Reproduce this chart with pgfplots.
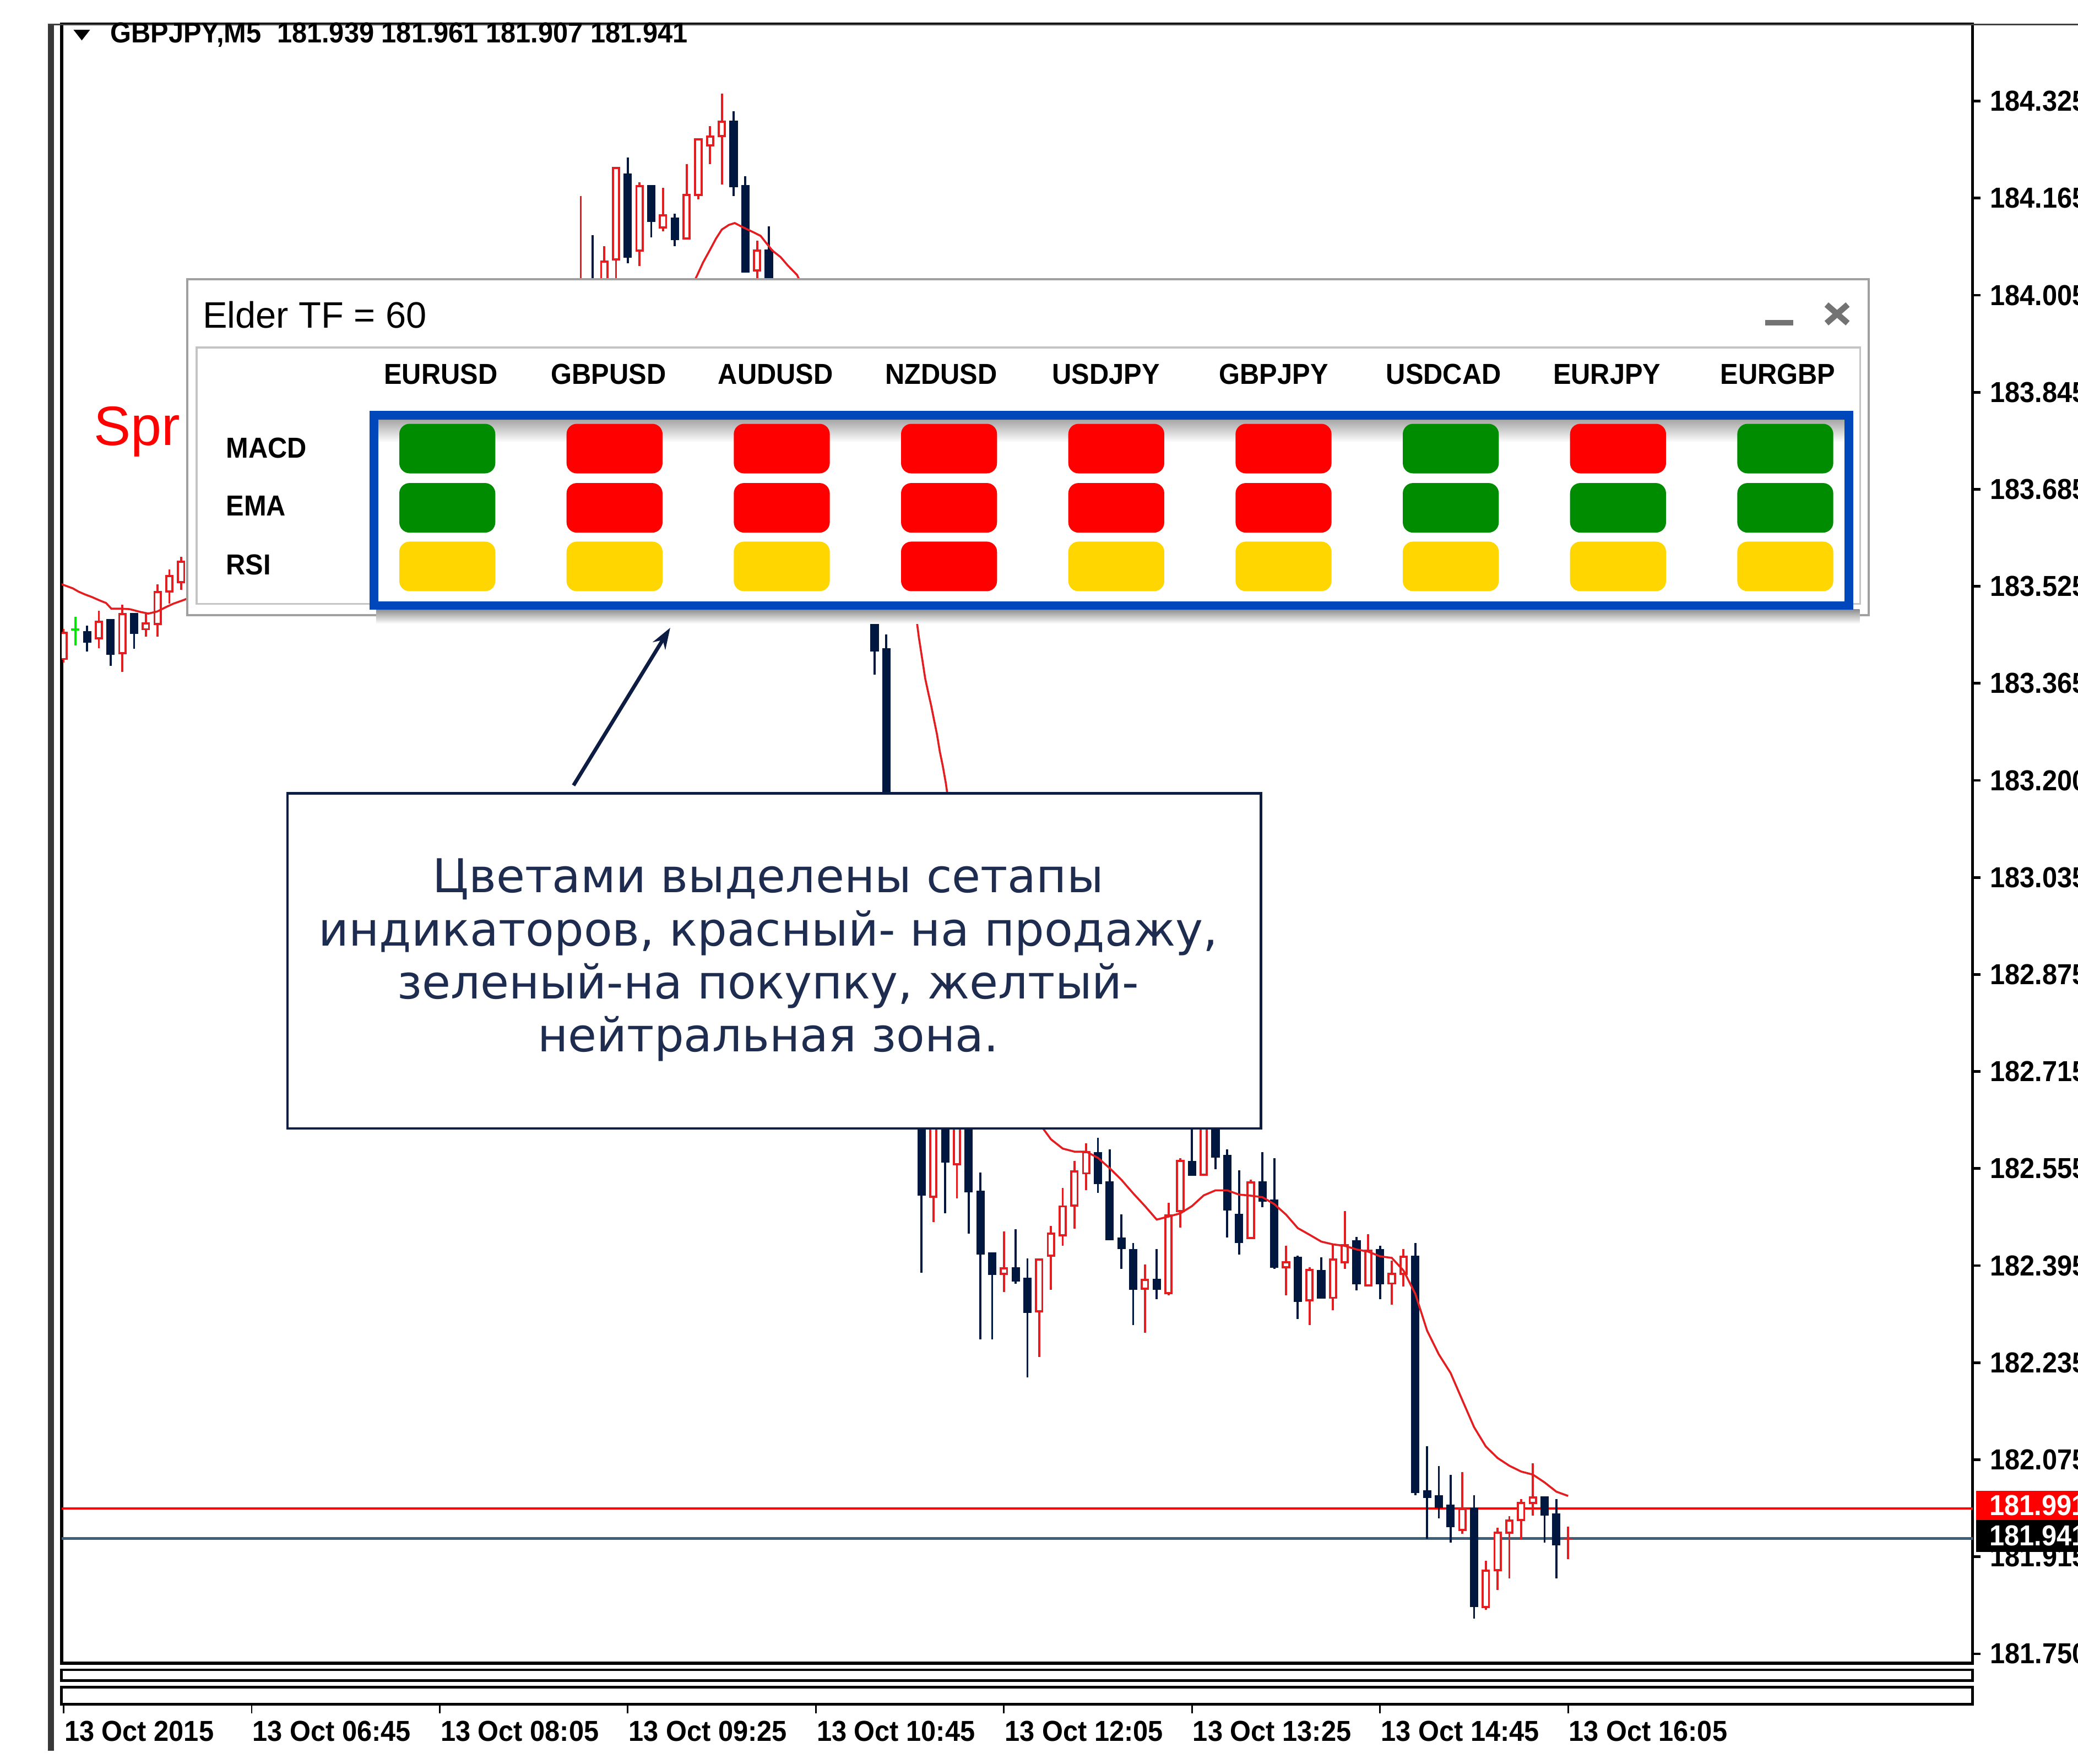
\documentclass[border=0pt]{standalone}
\usepackage{fontspec}
\setmainfont{Liberation Sans}
\newfontfamily\uifont[FakeStretch=0.93]{Liberation Sans}
\newfontfamily\boxfont{DejaVu Sans}
\usepackage{pgfplots}
\usepackage{pgfplotstable}
\pgfplotsset{compat=1.18}
\usetikzlibrary{arrows.meta}

\definecolor{bearc}{RGB}{0,24,64}
\definecolor{bullc}{RGB}{228,30,32}
\definecolor{macol}{RGB}{228,30,32}
\definecolor{bidc}{RGB}{62,95,122}
\definecolor{askc}{RGB}{255,0,0}
\definecolor{dojic}{RGB}{0,230,0}
\definecolor{pgreen}{RGB}{0,140,0}
\definecolor{pred}{RGB}{255,0,0}
\definecolor{pyellow}{RGB}{255,214,0}
\definecolor{frameblue}{RGB}{0,71,187}
\definecolor{boxnavy}{RGB}{12,28,66}
\definecolor{boxtext}{RGB}{30,44,80}
\definecolor{panelgray}{RGB}{160,160,160}
\definecolor{innergray}{RGB}{196,196,196}

\newcommand{\ui}{\uifont\bfseries\fontsize{6.2}{7.4}\selectfont}

% rounded rectangle mark (corners built from curves)
\pgfdeclareplotmark{rrect}{%
  \pgfpathmoveto{\pgfpoint{-0.285cm}{0.18cm}}%
  \pgfpathlineto{\pgfpoint{0.285cm}{0.18cm}}%
  \pgfpathcurveto{\pgfpoint{0.3237cm}{0.18cm}}{\pgfpoint{0.355cm}{0.1487cm}}{\pgfpoint{0.355cm}{0.11cm}}%
  \pgfpathlineto{\pgfpoint{0.355cm}{-0.11cm}}%
  \pgfpathcurveto{\pgfpoint{0.355cm}{-0.1487cm}}{\pgfpoint{0.3237cm}{-0.18cm}}{\pgfpoint{0.285cm}{-0.18cm}}%
  \pgfpathlineto{\pgfpoint{-0.285cm}{-0.18cm}}%
  \pgfpathcurveto{\pgfpoint{-0.3237cm}{-0.18cm}}{\pgfpoint{-0.355cm}{-0.1487cm}}{\pgfpoint{-0.355cm}{-0.11cm}}%
  \pgfpathlineto{\pgfpoint{-0.355cm}{0.11cm}}%
  \pgfpathcurveto{\pgfpoint{-0.355cm}{0.1487cm}}{\pgfpoint{-0.3237cm}{0.18cm}}{\pgfpoint{-0.285cm}{0.18cm}}%
  \pgfpathclose
  \pgfusepathqfillstroke}

% bearish candles (filled navy): bar index, open, high, low, close
\pgfplotstableread{
x O H L C
2 183.4459 183.4553 183.4123 183.4268
4 183.4663 183.4663 183.3883 183.4070
6 183.4758 183.4758 183.4169 183.4413
45 183.9652 184.1030 183.8114 183.8553
48 184.2048 184.2312 184.0558 184.0650
50 184.1857 184.1857 184.0993 184.1244
52 184.1318 184.1380 184.0848 184.0949
57 184.2927 184.3079 184.1674 184.1822
58 184.1857 184.2004 184.0406 184.0406
60 184.0793 184.1175 183.9652 183.9872
69 183.5257 183.5477 183.3738 183.4118
70 183.4173 183.4406 182.9103 182.9542
73 182.6930 182.6930 182.3817 182.5098
75 182.7084 182.7213 182.4810 182.5643
77 182.6764 182.6892 182.4470 182.5149
78 182.5181 182.5482 182.2714 182.4118
79 182.4156 182.4156 182.2714 182.3784
81 182.3913 182.4541 182.3637 182.3676
82 182.3733 182.4060 182.2086 182.3157
88 182.5816 182.6059 182.5143 182.5290
89 182.5335 182.5867 182.4361 182.4361
90 182.4406 182.4790 182.3881 182.4214
91 182.4214 182.4310 182.2951 182.3541
93 182.3720 182.4214 182.3381 182.3541
96 182.5675 182.6636 182.5431 182.5431
98 182.6636 182.6764 182.5534 182.5726
99 182.5771 182.5867 182.4406 182.4855
100 182.4797 182.5515 182.4118 182.4316
102 182.5335 182.5816 182.4906 182.5002
103 182.5034 182.5720 182.3881 182.3900
105 182.4086 182.4105 182.3048 182.3336
107 182.3861 182.4073 182.3387 182.3387
110 182.4361 182.4412 182.3528 182.3624
112 182.4214 182.4265 182.3381 182.3624
115 182.4105 182.4310 182.0132 182.0164
116 182.0215 182.0946 181.9408 182.0081
117 182.0132 182.0613 181.9748 181.9921
118 181.9972 182.0472 181.9344 181.9600
120 181.9921 182.0132 181.8082 181.8274
126 182.0113 182.0113 181.9344 181.9793
127 181.9824 182.0068 181.8755 181.9299
}\bear

% bullish candles (hollow red)
\pgfplotstableread{
x O H L C
0 183.3982 183.4496 183.3938 183.4452
3 183.4325 183.4795 183.4180 183.4635
5 183.4074 183.4894 183.3784 183.4758
7 183.4474 183.4758 183.4367 183.4604
8 183.4560 183.5235 183.4367 183.5129
9 183.5103 183.5487 183.4916 183.5389
10 183.5257 183.5696 183.5147 183.5630
44 183.8773 184.1674 183.8333 183.9872
46 183.9433 184.0848 183.8993 184.0604
47 184.0604 184.2158 183.9872 184.2158
49 184.0751 184.1907 184.0512 184.1857
51 184.1136 184.1815 184.1090 184.1371
53 184.0953 184.2202 184.0953 184.1714
54 184.1674 184.2635 184.1624 184.2635
55 184.2496 184.2833 184.2202 184.2681
56 184.2650 184.3373 184.1868 184.2927
59 184.0422 184.0938 184.0202 184.0786
74 182.5066 182.7213 182.4662 182.6956
76 182.5598 182.6956 182.5053 182.6828
80 182.3784 182.4502 182.3496 182.3913
83 182.3163 182.4054 182.2420 182.4054
84 182.4086 182.4598 182.3541 182.4489
85 182.4425 182.5226 182.4265 182.4938
86 182.4919 182.5675 182.4553 182.5515
87 182.5450 182.5963 182.5194 182.5835
92 182.3541 182.3957 182.2823 182.3720
94 182.3464 182.4983 182.3445 182.4790
95 182.4823 182.5720 182.4573 182.5688
97 182.5431 182.6828 182.5431 182.6636
101 182.4374 182.5367 182.4374 182.5335
104 182.3893 182.4265 182.3445 182.4009
106 182.3349 182.3913 182.2951 182.3881
108 182.3387 182.4297 182.3195 182.4060
109 182.3977 182.4842 182.3881 182.4297
111 182.3592 182.4457 182.3592 182.4201
113 182.3624 182.4022 182.3291 182.3817
114 182.3784 182.4214 182.3592 182.4105
119 181.9536 182.0517 181.9491 181.9921
121 181.8255 181.9043 181.8229 181.8895
122 181.8870 181.9587 181.8562 181.9523
123 181.9491 181.9780 181.8755 181.9728
124 181.9703 182.0068 181.9395 182.0023
125 181.9985 182.0664 181.9793 182.0113
128 181.9390 181.9610 181.9070 181.9410
}\bull

% doji
\pgfplotstableread{
x O H L C
1 183.4487 183.4696 183.4224 183.4487
}\doji

% indicator panel cells (pixel grid of the panel)
\pgfplotstableread{
x y c
337.5 338.5 G
463.7 338.5 R
589.9 338.5 R
716.1 338.5 R
842.3 338.5 R
968.5 338.5 R
1094.7 338.5 G
1220.9 338.5 R
1347.1 338.5 G
337.5 383.2 G
463.7 383.2 R
589.9 383.2 R
716.1 383.2 R
842.3 383.2 R
968.5 383.2 R
1094.7 383.2 G
1220.9 383.2 G
1347.1 383.2 G
337.5 427.4 Y
463.7 427.4 Y
589.9 427.4 Y
716.1 427.4 R
842.3 427.4 Y
968.5 427.4 Y
1094.7 427.4 Y
1220.9 427.4 Y
1347.1 427.4 Y
}\cells

\begin{document}
\begin{tikzpicture}
\fill[white] (0,0) rectangle (15.68cm,-13.31cm);
\path[use as bounding box] (0,0) rectangle (15.68cm,-13.31cm);

% ---------------- main price window ----------------
\begin{axis}[
  at={(0.465cm,-12.55cm)}, anchor=south west,
  scale only axis, width=14.42cm, height=12.37cm,
  xmin=-0.169, xmax=162.42,
  ymin=181.7345, ymax=184.4531,
  axis line style={line width=0.022cm, black},
  xtick=\empty,
  ytick={184.325,184.1641,184.0031,183.8422,183.6813,183.5203,183.3594,183.1984,183.0375,182.8766,182.7156,182.5547,182.3938,182.2328,182.0719,181.9109,181.75},
  yticklabels={184.325,184.165,184.005,183.845,183.685,183.525,183.365,183.200,183.035,182.875,182.715,182.555,182.395,182.235,182.075,181.915,181.750},
  ytick pos=right, yticklabel pos=right,
  tick align=outside, major tick length=0.06cm,
  every tick/.style={black, line width=0.02cm},
  yticklabel style={anchor=west, inner sep=0pt, font=\ui},
  yticklabel shift=0.065cm,
]
% ask / bid lines
\addplot[askc, line width=0.02cm, mark=none] coordinates {(-1,181.991) (170,181.991)};
\addplot[bidc, line width=0.02cm, mark=none] coordinates {(-1,181.941) (170,181.941)};

% bearish: wicks and filled bodies
\addplot[draw=none, mark=none, error bars/.cd, y dir=plus, y explicit, error mark=none,
  error bar style={draw=bearc, line width=0.016cm}]
  table[x=x, y=L, y error expr={\thisrow{H}-\thisrow{L}}] {\bear};
\addplot[draw=none, mark=none, error bars/.cd, y dir=plus, y explicit, error mark=none,
  error bar style={draw=bearc, line width=0.063cm}]
  table[x=x, y=C, y error expr={\thisrow{O}-\thisrow{C}}] {\bear};

% bullish: wicks, red bodies, white interiors
\addplot[draw=none, mark=none, error bars/.cd, y dir=plus, y explicit, error mark=none,
  error bar style={draw=bullc, line width=0.016cm}]
  table[x=x, y=L, y error expr={\thisrow{H}-\thisrow{L}}] {\bull};
\addplot[draw=none, mark=none, error bars/.cd, y dir=plus, y explicit, error mark=none,
  error bar style={draw=bullc, line width=0.063cm}]
  table[x=x, y=O, y error expr={\thisrow{C}-\thisrow{O}}] {\bull};
\addplot[draw=none, mark=none, error bars/.cd, y dir=plus, y explicit, error mark=none,
  error bar style={draw=white, line width=0.031cm}]
  table[x=x, y expr={\thisrow{O}+0.0035}, y error expr={max(\thisrow{C}-\thisrow{O}-0.007,0)}] {\bull};

% doji
\addplot[draw=none, mark=none, error bars/.cd, y dir=plus, y explicit, error mark=none,
  error bar style={draw=dojic, line width=0.016cm}]
  table[x=x, y=L, y error expr={\thisrow{H}-\thisrow{L}}] {\doji};
\addplot[draw=none, mark=none, error bars/.cd, y dir=plus, y explicit, error mark=none,
  error bar style={draw=dojic, line width=0.063cm}]
  table[x=x, y expr={\thisrow{O}-0.0019}, y error expr=0.0038] {\doji};

% moving average (visible stretches)
\addplot[macol, line width=0.015cm, mark=none] coordinates {
(-0.6,183.527) (0.09,183.5219) (0.79,183.5169) (1.26,183.5116) (1.80,183.5070) (2.43,183.5024)
(3.04,183.4971) (3.61,183.4927) (4.06,183.4833) (4.85,183.4833) (5.63,183.4824) (6.54,183.4778)
(7.21,183.4751) (7.97,183.4786) (8.75,183.4863) (9.35,183.4916) (10.14,183.4971) (11.2,183.505)};
\addplot[macol, line width=0.015cm, mark=none] coordinates {
(53.5,184.0202) (53.9,184.036) (54.4,184.0573) (55.0,184.0786) (55.5,184.0969) (56.0,184.112)
(56.6,184.1197) (57.1,184.1228) (57.7,184.1167) (58.2,184.112) (58.7,184.1074) (59.3,184.1015)
(59.8,184.0892) (60.3,184.0771) (61.0,184.0663) (61.6,184.0527) (62.4,184.0367) (62.8,184.0202)};
\addplot[macol, line width=0.015cm, mark=none] coordinates {
(72.3,183.50) (72.57,183.465) (72.76,183.4362) (73.07,183.3971) (73.3,183.3677) (73.57,183.3433)
(73.8,183.3235) (74.05,183.2991) (74.3,183.2753) (74.55,183.2459) (74.8,183.2222) (75.07,183.1925) (75.3,183.16)};
\addplot[macol, line width=0.015cm, mark=none] coordinates {
(82.8,182.6356) (83.4,182.6193) (84,182.6033) (85,182.5879) (86,182.5828) (87,182.5828) (88,182.5725)
(89,182.5553) (90,182.536) (91,182.5136) (92,182.4925) (93,182.4701) (94,182.4751) (95,182.4804)
(96,182.4925) (97,182.5103) (98,182.5186) (99,182.5186) (100,182.5116) (101,182.5098) (102,182.5072)
(103,182.4958) (104,182.4784) (105,182.456) (106,182.445) (107,182.4336) (108,182.429) (109,182.4266)
(110,182.4206) (111,182.4169) (112,182.4092) (113,182.4066) (114,182.3855) (115,182.347) (116,182.2861)
(117,182.2466) (118,182.2158) (119,182.1707) (120,182.1259) (121,182.0938) (122,182.0747) (123,182.0619)
(124,182.0523) (125,182.0472) (126,182.0342) (127,182.0189) (128,182.0118)};
\end{axis}

% ---------------- empty indicator sub-windows ----------------
\begin{axis}[
  at={(0.465cm,-12.68cm)}, anchor=south west,
  scale only axis, width=14.42cm, height=0.08cm,
  xmin=-0.169, xmax=162.42, ymin=0, ymax=1,
  axis line style={line width=0.02cm, black},
  xtick=\empty, ytick=\empty]
\end{axis}
\begin{axis}[
  at={(0.465cm,-12.86cm)}, anchor=south west,
  scale only axis, width=14.42cm, height=0.13cm,
  xmin=-0.169, xmax=162.42, ymin=0, ymax=1,
  axis line style={line width=0.02cm, black},
  ytick=\empty,
  xtick={0,16,32,48,64,80,96,112,128},
  xticklabels={13 Oct 2015,13 Oct 06:45,13 Oct 08:05,13 Oct 09:25,13 Oct 10:45,13 Oct 12:05,13 Oct 13:25,13 Oct 14:45,13 Oct 16:05},
  xtick pos=left, tick align=outside, major tick length=0.07cm,
  every tick/.style={black, line width=0.012cm},
  xticklabel style={anchor=north west, inner sep=0pt, font=\ui},
  xticklabel shift=0.05cm]
\end{axis}

% ---------------- window decorations and panel ----------------
\begin{scope}[x=0.01cm, y=-0.01cm]
\draw[line width=0.045cm, black!78] (38.5,18) -- (38.5,1322);
\draw[line width=0.014cm, black!75] (36,18.4) -- (1570,18.4);
\fill[black] (55.5,22.5) -- (68,22.5) -- (61.75,30.5) -- cycle;
\node[anchor=west, inner sep=0pt, font=\ui] at (82.7,26.5) {GBPJPY,M5\hspace{0.55em}181.939 181.961 181.907 181.941};
\node[anchor=base west, inner sep=0pt, text=askc, font=\fontsize{11.9}{14}\selectfont] at (70,336) {Spr};

\filldraw[fill=white, draw=panelgray, line width=0.017cm] (141.4,211) rectangle (1411,464.3);
\draw[innergray, line width=0.015cm] (148.5,262.5) rectangle (1404.5,456);
\node[anchor=base west, inner sep=0pt, font=\fontsize{7.9}{9.5}\selectfont] at (152.4,247.8) {Elder TF = 60};
\fill[black!55] (1332.5,241.5) rectangle (1354,245.6);
\draw[black!55, line width=0.045cm] (1379,230) -- (1395,244) (1379,244) -- (1395,230);
\foreach \n [count=\k from 0] in {EURUSD,GBPUSD,AUDUSD,NZDUSD,USDJPY,GBPJPY,USDCAD,EURJPY,EURGBP}
  \node[anchor=base west, inner sep=0pt, font=\ui] at (289.3+126.1*\k,290.2) {\n};
\node[anchor=base west, inner sep=0pt, font=\ui] at (170,345.7) {MACD};
\node[anchor=base west, inner sep=0pt, font=\ui] at (170,389.6) {EMA};
\node[anchor=base west, inner sep=0pt, font=\ui] at (170,433.9) {RSI};
\shade[top color=black!35, bottom color=white] (285.5,316.8) rectangle (1392.5,334);
\shade[top color=black!45, bottom color=white] (284,460) rectangle (1404,471);
\end{scope}

% indicator cells
\begin{axis}[
  at={(0,0)}, anchor=north west,
  scale only axis, width=15.68cm, height=13.31cm,
  xmin=0, xmax=1568, ymin=0, ymax=1331, y dir=reverse,
  hide axis, clip=false]
\addplot[scatter, only marks, mark=rrect, scatter src=explicit symbolic,
  scatter/classes={G={draw=pgreen,fill=pgreen}, R={draw=pred,fill=pred}, Y={draw=pyellow,fill=pyellow}}]
  table[x=x, y=y, meta=c] {\cells};
\end{axis}

\begin{scope}[x=0.01cm, y=-0.01cm]
\draw[frameblue, line width=0.065cm] (282.3,313.6) rectangle (1396,457.2);
\filldraw[fill=white, draw=boxnavy, line width=0.018cm] (217,599) rectangle (952,852);
\node[anchor=base, inner sep=0pt, text=boxtext, font=\boxfont\fontsize{10}{12}\selectfont] at (580,674) {Цветами выделены сетапы};
\node[anchor=base, inner sep=0pt, text=boxtext, font=\boxfont\fontsize{10}{12}\selectfont] at (580,714) {индикаторов, красный- на продажу,};
\node[anchor=base, inner sep=0pt, text=boxtext, font=\boxfont\fontsize{10}{12}\selectfont] at (580,754) {зеленый-на покупку, желтый-};
\node[anchor=base, inner sep=0pt, text=boxtext, font=\boxfont\fontsize{10}{12}\selectfont] at (580,794) {нейтральная зона.};
\draw[boxnavy, line width=0.028cm, -{Stealth[length=0.16cm, width=0.11cm]}] (433,593) -- (506,474);
\fill[askc] (1492,1125.5) rectangle (1580,1147.5);
\node[anchor=west, inner sep=0pt, text=white, font=\ui] at (1501.5,1136.5) {181.991};
\fill[black] (1492,1147.5) rectangle (1580,1171.7);
\node[anchor=west, inner sep=0pt, text=white, font=\ui] at (1501.5,1159.6) {181.941};
\end{scope}
\end{tikzpicture}
\end{document}
